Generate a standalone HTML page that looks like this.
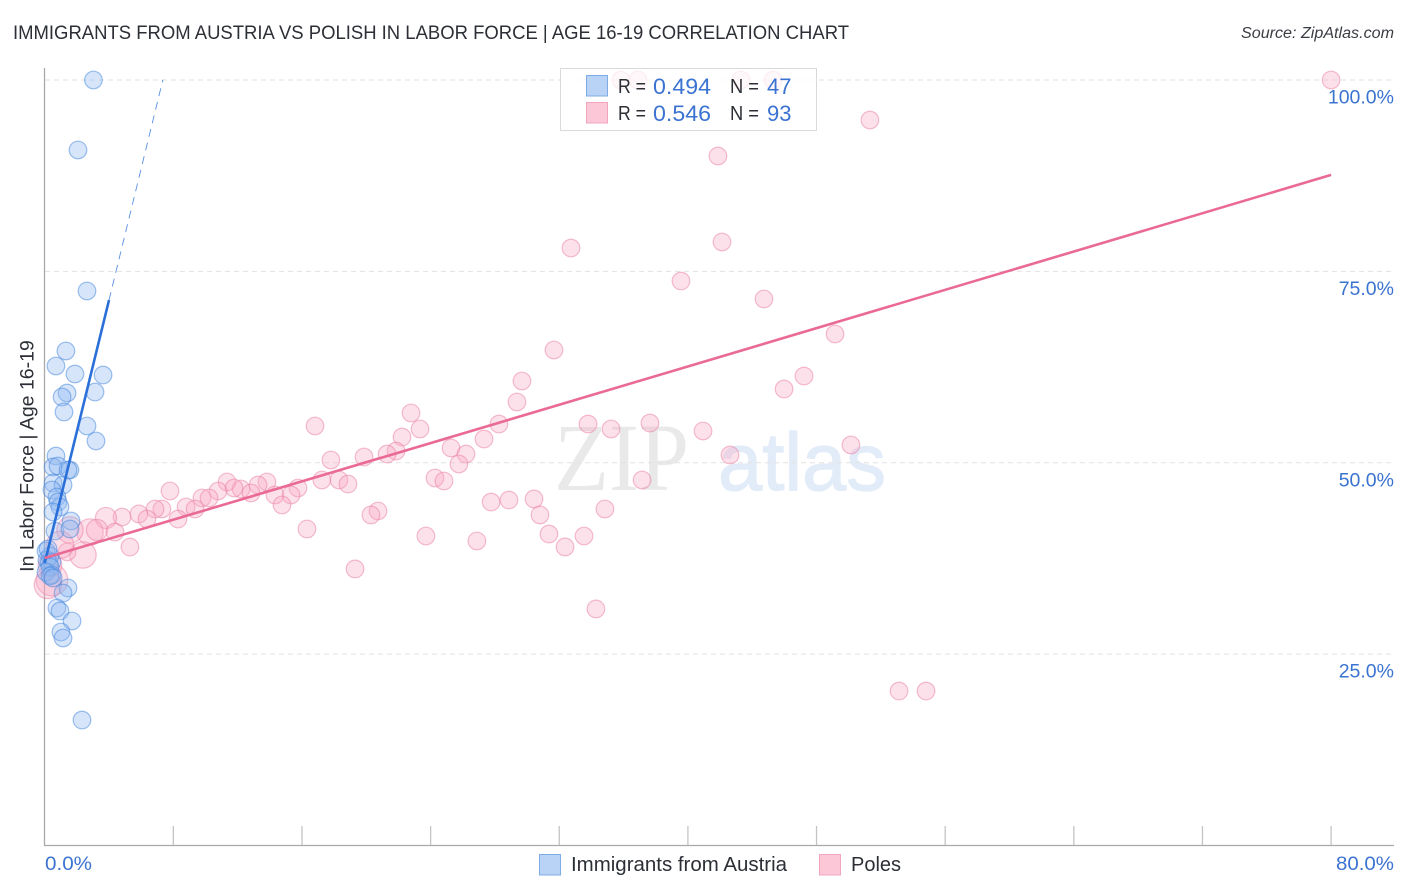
<!DOCTYPE html>
<html lang="en">
<head>
<meta charset="utf-8">
<title>Immigrants from Austria vs Polish in Labor Force Correlation Chart</title>
<style>
html,body{margin:0;padding:0;background:#fff;}
svg{display:block;font-family:"Liberation Sans",sans-serif;}
</style>
</head>
<body>
<svg id="chart" xmlns="http://www.w3.org/2000/svg" width="1406" height="892" viewBox="0 0 1406 892">
  <rect width="1406" height="892" fill="#fff"/>
  <text x="13" y="39" font-size="19" fill="#2c2f36" textLength="836" lengthAdjust="spacingAndGlyphs">IMMIGRANTS FROM AUSTRIA VS POLISH IN LABOR FORCE | AGE 16-19 CORRELATION CHART</text>
  <text x="1241" y="38" font-size="15.5" font-style="italic" fill="#3a3d44" textLength="153" lengthAdjust="spacingAndGlyphs">Source: ZipAtlas.com</text>
  <text x="554" y="490" font-family="'Liberation Serif',serif" font-size="96" fill="#e9e9e9" textLength="135" lengthAdjust="spacingAndGlyphs">ZIP</text>
  <text x="718" y="490" font-size="82" fill="#e2ecf9" stroke="#e2ecf9" stroke-width="1.2" textLength="168" lengthAdjust="spacingAndGlyphs">atlas</text>
  <g id="grid"></g>
  <g id="axes"></g>
  <g id="points"></g>
  <g id="lines"></g>
  <g id="labels"></g>
  <g>
    <rect x="560.5" y="68.5" width="256" height="62" fill="#fff" fill-opacity="0.75" stroke="#d9d9d9"/>
    <rect x="586.5" y="75.5" width="21" height="20.5" fill="#b9d3f7" stroke="#7fabe6"/>
    <rect x="586.5" y="102.5" width="21" height="20.5" fill="#fcc8d8" stroke="#f3a5bf"/>
    <g font-size="20" fill="#2c2f36">
      <text x="618" y="93" textLength="28" lengthAdjust="spacingAndGlyphs">R =</text>
      <text x="730" y="93" textLength="29" lengthAdjust="spacingAndGlyphs">N =</text>
      <text x="618" y="120" textLength="28" lengthAdjust="spacingAndGlyphs">R =</text>
      <text x="730" y="120" textLength="29" lengthAdjust="spacingAndGlyphs">N =</text>
    </g>
    <g font-size="22" fill="#3b73d1">
      <text x="653" y="94" textLength="58" lengthAdjust="spacingAndGlyphs">0.494</text>
      <text x="767" y="94">47</text>
      <text x="653" y="121" textLength="58" lengthAdjust="spacingAndGlyphs">0.546</text>
      <text x="767" y="121">93</text>
    </g>
  </g>
  <text transform="translate(33.5,456) rotate(-90)" font-size="19.5" fill="#2c2f36" text-anchor="middle">In Labor Force | Age 16-19</text>
  <g>
    <rect x="539.5" y="854.5" width="21" height="20.5" fill="#b9d3f7" stroke="#7fabe6"/>
    <text x="571" y="871" font-size="20" fill="#2c2f36" textLength="216" lengthAdjust="spacingAndGlyphs">Immigrants from Austria</text>
    <rect x="819.5" y="854.5" width="21" height="20.5" fill="#fcc8d8" stroke="#f3a5bf"/>
    <text x="851" y="871" font-size="20" fill="#2c2f36">Poles</text>
  </g>
</svg>
<script>
const yTickValues = [100, 75, 50, 25];
const yTickLabels = ["100.0%", "75.0%", "50.0%", "25.0%"];
const xTickValues = [8, 16, 24, 32, 40, 48, 56, 64, 72, 80];
const xEndLabels = ["0.0%", "80.0%"];

const austriaX = [3.03,2.07,2.63,1.32,0.70,1.88,3.63,1.39,1.08,3.13,1.20,2.63,3.19,0.70,0.52,0.83,1.57,1.45,0.52,1.14,0.45,0.76,0.83,0.95,0.52,1.64,0.64,1.57,1.45,1.14,0.76,0.95,1.70,1.01,1.14,2.32,0.08,0.33,0.14,0.27,0.45,0.33,0.08,0.45,0.33,0.52,0.21];
const austriaY = [100,90.86,72.44,64.60,62.64,61.59,61.46,59.11,58.59,59.24,56.63,54.80,52.84,50.88,49.45,49.58,49.05,49.05,47.35,47.09,46.44,45.53,44.87,44.22,43.57,42.39,41.08,41.35,33.64,32.98,31.03,30.63,29.33,27.89,27.11,16.39,38.47,37.82,37.30,36.90,37.03,36.38,35.73,35.34,35.21,34.95,38.73];
const polesX = [80,35.84,36.9,43.3,45.3,51.32,41.87,42.12,32.73,39.57,44.73,49.15,31.67,29.68,47.22,45.98,29.37,22.78,16.81,33.79,35.22,37.64,40.94,28.25,23.34,22.22,27.32,50.14,42.62,25.27,21.85,21.29,26.2,19.86,17.8,25.76,24.27,24.83,37.15,17.24,18.3,18.86,27.76,28.87,30.43,34.84,30.8,20.73,20.29,16.31,23.71,26.88,31.36,33.54,32.36,19.3,34.28,53.13,54.81,7.79,11.34,13.82,13.27,12.21,11.77,10.78,12.83,14.32,15.75,15.32,14.76,9.78,10.22,8.79,9.35,7.29,6.86,5.86,6.36,4.81,8.29,3.81,2.82,3.25,4.37,5.3,2.38,1.39,1.57,0.95,0.45,0.2,0.33];
const polesY = [100,100,100,100,100,94.77,90.07,78.84,78.05,73.74,71.39,66.82,64.73,60.68,61.33,59.63,57.94,56.50,54.80,55.06,54.41,55.19,54.15,55.06,54.41,53.36,53.10,52.32,51.01,51.93,51.53,51.14,51.14,50.75,50.36,49.84,48.01,47.62,47.75,47.75,47.75,47.22,44.87,45.13,45.27,43.96,43.18,43.7,43.18,41.35,40.43,39.78,40.69,40.43,39.0,36.13,30.9,20.18,20.18,46.31,47.49,47.49,47.09,46.57,46.7,46.31,46.05,45.79,46.7,45.79,44.48,45.4,45.4,44.22,43.96,43.96,43.96,43.31,42.65,42.91,42.65,42.78,40.95,41.22,40.95,38.99,37.95,38.36,41.22,39.26,34.68,34.03,36.64];
const polesWeightTail = [1.2,1.5,1.2,1,1,1.5,1,1.5,1.55,1.8,1.55,1.35];

const austriaIntercept = 36.9;
const austriaSlope = 8.59;
const austriaSolidEnd = 4.0;
const austriaDashEnd = 7.35;
const polesIntercept = 37.56;
const polesSlope = 0.6255;
const polesLineEnd = 80;

const NS = "http://www.w3.org/2000/svg";
function sx(v){return 44.7 + v * 16.08;}
function sy(v){return 845.5 - v * 7.655;}
function make(tag, attrs, parent){
  const el = document.createElementNS(NS, tag);
  for (const k in attrs) el.setAttribute(k, attrs[k]);
  parent.appendChild(el);
  return el;
}
const grid = document.getElementById("grid");
const axes = document.getElementById("axes");
const points = document.getElementById("points");
const lines = document.getElementById("lines");
const labels = document.getElementById("labels");

yTickValues.forEach(function(v, i){
  const g = make("line", {x1:45, x2:1394, y1:sy(v), y2:sy(v), stroke:"#e2e2e2", "stroke-width":1, "stroke-dasharray":"5 4"}, grid);
  
  
  const t = make("text", {x:1394, y:sy(v) + 23.5, "font-size":19.5, fill:"#3b73d1", "text-anchor":"end"}, labels);
  t.textContent = yTickLabels[i];
  
  
});

const yAxis = make("line", {x1:44.5, x2:44.5, y1:68, y2:846, stroke:"#a9a9a9", "stroke-width":1.3}, axes);


const xAxis = make("line", {x1:44, x2:1394, y1:845.5, y2:845.5, stroke:"#a9a9a9", "stroke-width":1.3}, axes);


xTickValues.forEach(function(v){
  const t = make("line", {x1:sx(v), x2:sx(v), y1:826, y2:845, stroke:"#c4c4c4", "stroke-width":1.3}, axes);
  
  
});

const x0Label = make("text", {x:45, y:870, "font-size":19.5, fill:"#3b73d1", textLength:47, lengthAdjust:"spacingAndGlyphs"}, labels);
x0Label.textContent = xEndLabels[0];


const x1Label = make("text", {x:1336, y:870, "font-size":19.5, fill:"#3b73d1", textLength:58, lengthAdjust:"spacingAndGlyphs"}, labels);
x1Label.textContent = xEndLabels[1];



polesX.forEach(function(v, i){
  const offset = i - (polesX.length - polesWeightTail.length);
  const weight = offset >= 0 ? polesWeightTail[offset] : 1;
  const c = make("circle", {cx:sx(v), cy:sy(polesY[i]), r:8.8 * weight, fill:"#f9a8c2", "fill-opacity":0.34, stroke:"#e87ea2", "stroke-opacity":0.5, "stroke-width":1.2}, points);
  
  
});
austriaX.forEach(function(v, i){
  const c = make("circle", {cx:sx(v), cy:sy(austriaY[i]), r:8.8, fill:"#8db8f0", "fill-opacity":0.36, stroke:"#3f83dc", "stroke-opacity":0.5, "stroke-width":1.2}, points);
  
  
});

const austriaDash = make("line", {x1:sx(austriaSolidEnd), y1:sy(austriaIntercept + austriaSlope * austriaSolidEnd), x2:sx(austriaDashEnd), y2:sy(austriaIntercept + austriaSlope * austriaDashEnd), stroke:"#2f74d8", "stroke-opacity":0.8, "stroke-width":0.9, "stroke-dasharray":"8 6"}, lines);


const austriaLine = make("line", {x1:sx(0), y1:sy(austriaIntercept), x2:sx(austriaSolidEnd), y2:sy(austriaIntercept + austriaSlope * austriaSolidEnd), stroke:"#2b70d9", "stroke-width":2.6}, lines);


const polesLine = make("line", {x1:sx(0), y1:sy(polesIntercept), x2:sx(polesLineEnd), y2:sy(polesIntercept + polesSlope * polesLineEnd), stroke:"#ea6a97", "stroke-width":2.6}, lines);


</script>
</body>
</html>
